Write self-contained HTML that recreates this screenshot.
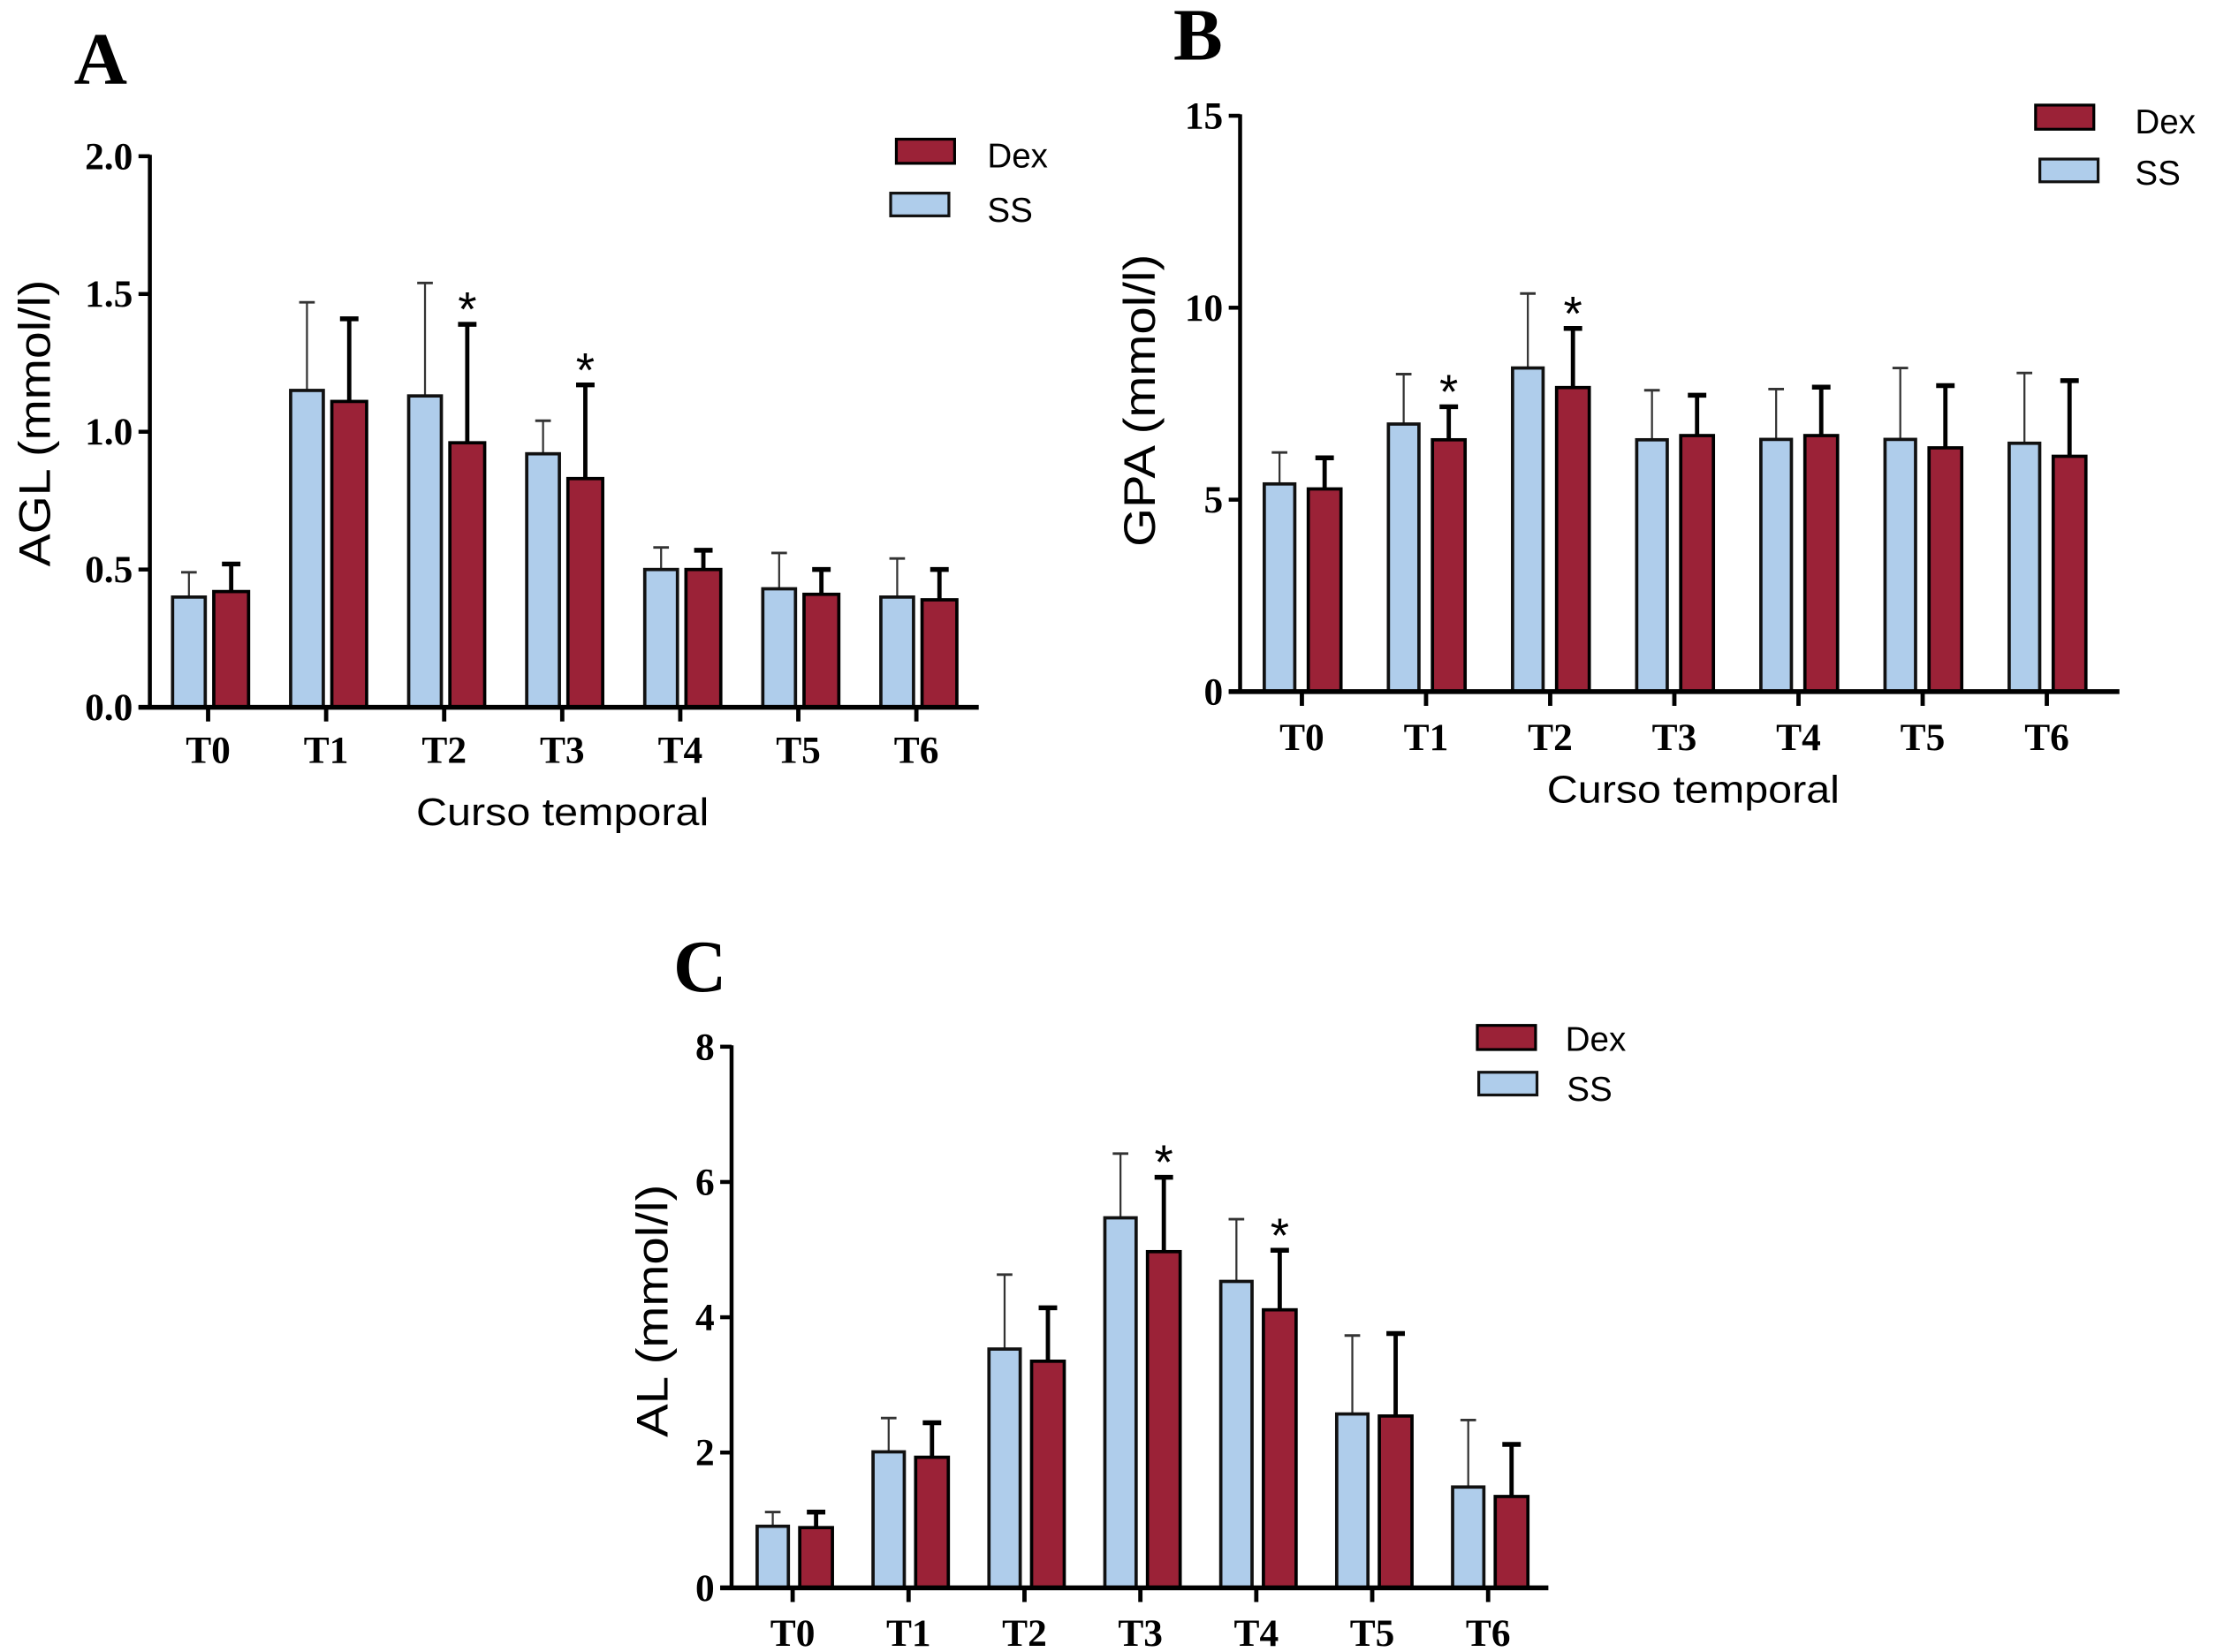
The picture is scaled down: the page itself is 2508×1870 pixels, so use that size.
<!DOCTYPE html>
<html><head><meta charset="utf-8"><style>
html,body{margin:0;padding:0;background:#fff;}
svg{display:block;}
.tk{font-family:"Liberation Serif",serif;font-weight:bold;}
.sn{font-family:"Liberation Sans",sans-serif;}
</style></head><body>
<svg id="fig" xmlns="http://www.w3.org/2000/svg" width="2508" height="1870" viewBox="0 0 1560 1163.2" preserveAspectRatio="none"></svg>
<script>
const categories = ["T0","T1","T2","T3","T4","T5","T6"];
// Panel A: AGL
const aSS = [0.40,1.15,1.13,0.92,0.50,0.43,0.40];
const aSSErr = [0.49,1.47,1.54,1.04,0.58,0.56,0.54];
const aDex = [0.42,1.11,0.96,0.83,0.50,0.41,0.39];
const aDexErr = [0.52,1.41,1.39,1.17,0.57,0.50,0.50];
const aSig = [2,3];
const aTicks = ["0.0","0.5","1.0","1.5","2.0"];
const aTickVals = [0,0.5,1,1.5,2];
// Panel B: GPA
const bSS = [5.41,6.97,8.43,6.56,6.57,6.57,6.47];
const bSSErr = [6.23,8.27,10.37,7.85,7.88,8.43,8.30];
const bDex = [5.28,6.56,7.92,6.67,6.67,6.35,6.13];
const bDexErr = [6.09,7.42,9.46,7.72,7.93,7.97,8.10];
const bSig = [1,2];
const bTicks = ["0","5","10","15"];
const bTickVals = [0,5,10,15];
// Panel C: AL
const cSS = [0.91,2.01,3.53,5.47,4.53,2.57,1.49];
const cSSErr = [1.12,2.51,4.63,6.42,5.45,3.73,2.48];
const cDex = [0.89,1.93,3.35,4.97,4.11,2.54,1.35];
const cDexErr = [1.12,2.44,4.14,6.07,4.99,3.76,2.12];
const cSig = [3,4];
const cTicks = ["0","2","4","6","8"];
const cTickVals = [0,2,4,6,8];

const NS="http://www.w3.org/2000/svg";
const svg=document.getElementById('fig');
function mk(tag,attrs,parent,text){const e=document.createElementNS(NS,tag);for(const k in attrs)e.setAttribute(k,attrs[k]);if(text!==undefined)e.textContent=text;(parent||svg).appendChild(e);return e;}

function panel(o){
  const g=mk('g',{});
  
  
  const y=v=>o.y0-(v-o.vmin)/(o.vmax-o.vmin)*(o.y0-o.ytop);
  const x=i=>o.x0c+i*o.step;
  const L=mk('text',{x:o.letter[0],y:o.letter[1],'class':'tk','font-size':52},g,o.letterText);
  
  
  for(let i=0;i<categories.length;i++){
    const cx=x(i);
    const sx0=cx+o.ssOff[0], sx1=cx+o.ssOff[1];
    const dx0=cx+o.dexOff[0], dx1=cx+o.dexOff[1];
    const smx=(sx0+sx1)/2, dmx=(dx0+dx1)/2;
    const e1=mk('line',{x1:smx,x2:smx,y1:y(o.ss[i]),y2:y(o.ssErr[i]),stroke:'#333','stroke-width':1.4},g);
    
    
    mk('line',{x1:smx-5.5,x2:smx+5.5,y1:y(o.ssErr[i]),y2:y(o.ssErr[i]),stroke:'#333','stroke-width':1.8},g);
    const e2=mk('line',{x1:dmx,x2:dmx,y1:y(o.dex[i]),y2:y(o.dexErr[i]),stroke:'#000','stroke-width':3},g);
    
    
    mk('line',{x1:dmx-6.5,x2:dmx+6.5,y1:y(o.dexErr[i]),y2:y(o.dexErr[i]),stroke:'#000','stroke-width':3.4},g);
    const r1=mk('rect',{x:sx0,y:y(o.ss[i]),width:sx1-sx0,height:y(0)-y(o.ss[i]),fill:'#afcdeb',stroke:'#111','stroke-width':2.3},g);
    
    
    const r2=mk('rect',{x:dx0,y:y(o.dex[i]),width:dx1-dx0,height:y(0)-y(o.dex[i]),fill:'#9b2237',stroke:'#000','stroke-width':2.3},g);
    
    
    if(o.sig.indexOf(i)>=0){
      const s=mk('text',{x:dmx,y:y(o.dexErr[i])+1,'text-anchor':'middle','font-family':'Liberation Sans, sans-serif','font-size':34},g,'*');
      
      
    }
    mk('line',{x1:cx,x2:cx,y1:o.y0,y2:o.y0+10,stroke:'#000','stroke-width':3},g);
    const tl=mk('text',{x:cx,y:o.xlabY,'text-anchor':'middle','class':'tk','font-size':27},g,categories[i]);
    
    
  }
  const ya=mk('line',{x1:o.ax,x2:o.ax,y1:y(o.vmax)-1,y2:o.y0+1.5,stroke:'#000','stroke-width':2.8},g);
  
  
  const xa=mk('line',{x1:o.ax-8,x2:o.axEnd,y1:o.y0,y2:o.y0,stroke:'#000','stroke-width':3.4},g);
  
  
  for(let k=0;k<o.ticks.length;k++){
    const ty=y(o.tickVals[k]);
    mk('line',{x1:o.ax-8,x2:o.ax,y1:ty,y2:ty,stroke:'#000','stroke-width':2.8},g);
    const t=mk('text',{x:o.ax-12,y:ty+9,'text-anchor':'end','class':'tk','font-size':27},g,o.ticks[k]);
    
    
  }
  const yt=mk('text',{x:0,y:0,'text-anchor':'middle','class':'sn','font-size':31,textLength:o.ytLen,lengthAdjust:'spacingAndGlyphs',transform:`translate(${o.yt[0]},${o.yt[1]}) rotate(-90)`},g,o.ytitle);
  
  
  if(o.xt){
    const xt=mk('text',{x:o.xt[0],y:o.xt[1],'text-anchor':'middle','class':'sn','font-size':27,textLength:206,lengthAdjust:'spacingAndGlyphs'},g,'Curso temporal');
    
    
  }
  const lg=mk('g',{},g);
  
  
  const d=o.legDex, s=o.legSS;
  const ld=mk('rect',{x:d[0],y:d[1],width:41,height:17,fill:'#9b2237',stroke:'#000','stroke-width':2},lg);
  
  
  mk('text',{x:d[2],y:d[3],'class':'sn','font-size':24},lg,'Dex');
  const ls=mk('rect',{x:s[0],y:s[1],width:41,height:16,fill:'#afcdeb',stroke:'#111','stroke-width':2},lg);
  
  
  mk('text',{x:s[2],y:s[3],'class':'sn','font-size':24},lg,'SS');
}

panel({name:'panel-a-agl',letterText:'A',letter:[52,59],ss:aSS,ssErr:aSSErr,dex:aDex,dexErr:aDexErr,sig:aSig,ticks:aTicks,tickVals:aTickVals,
  vmin:0,vmax:2,y0:498,ytop:110,ax:105.5,axEnd:689,x0c:146.5,step:83.1,ssOff:[-25,-2],dexOff:[4,28.5],xlabY:537,
  ytitle:'AGL (mmol/l)',yt:[35,298],ytLen:202,xt:[396,581],legDex:[631,98,695,118],legSS:[627,136,695,156]});
panel({name:'panel-b-gpa',letterText:'B',letter:[826,42],ss:bSS,ssErr:bSSErr,dex:bDex,dexErr:bDexErr,sig:bSig,ticks:bTicks,tickVals:bTickVals,
  vmin:0,vmax:15,y0:487,ytop:81.5,ax:873,axEnd:1492,x0c:916.5,step:87.4,ssOff:[-26.5,-5],dexOff:[4.5,27.5],xlabY:528,
  ytitle:'GPA (mmol/l)',yt:[813,282],ytLen:206,xt:[1192,565],legDex:[1433,74,1503,94],legSS:[1436,112,1503,130]});
panel({name:'panel-c-al',letterText:'C',letter:[474,698],ss:cSS,ssErr:cSSErr,dex:cDex,dexErr:cDexErr,sig:cSig,ticks:cTicks,tickVals:cTickVals,
  vmin:0,vmax:8,y0:1118,ytop:737,ax:515,axEnd:1090,x0c:558,step:81.6,ssOff:[-25,-3],dexOff:[5,28],xlabY:1159,
  ytitle:'AL (mmol/l)',yt:[470,923],ytLen:178,xt:null,legDex:[1040,722,1102,740],legSS:[1041,755,1103,775]});
</script>
</body></html>
